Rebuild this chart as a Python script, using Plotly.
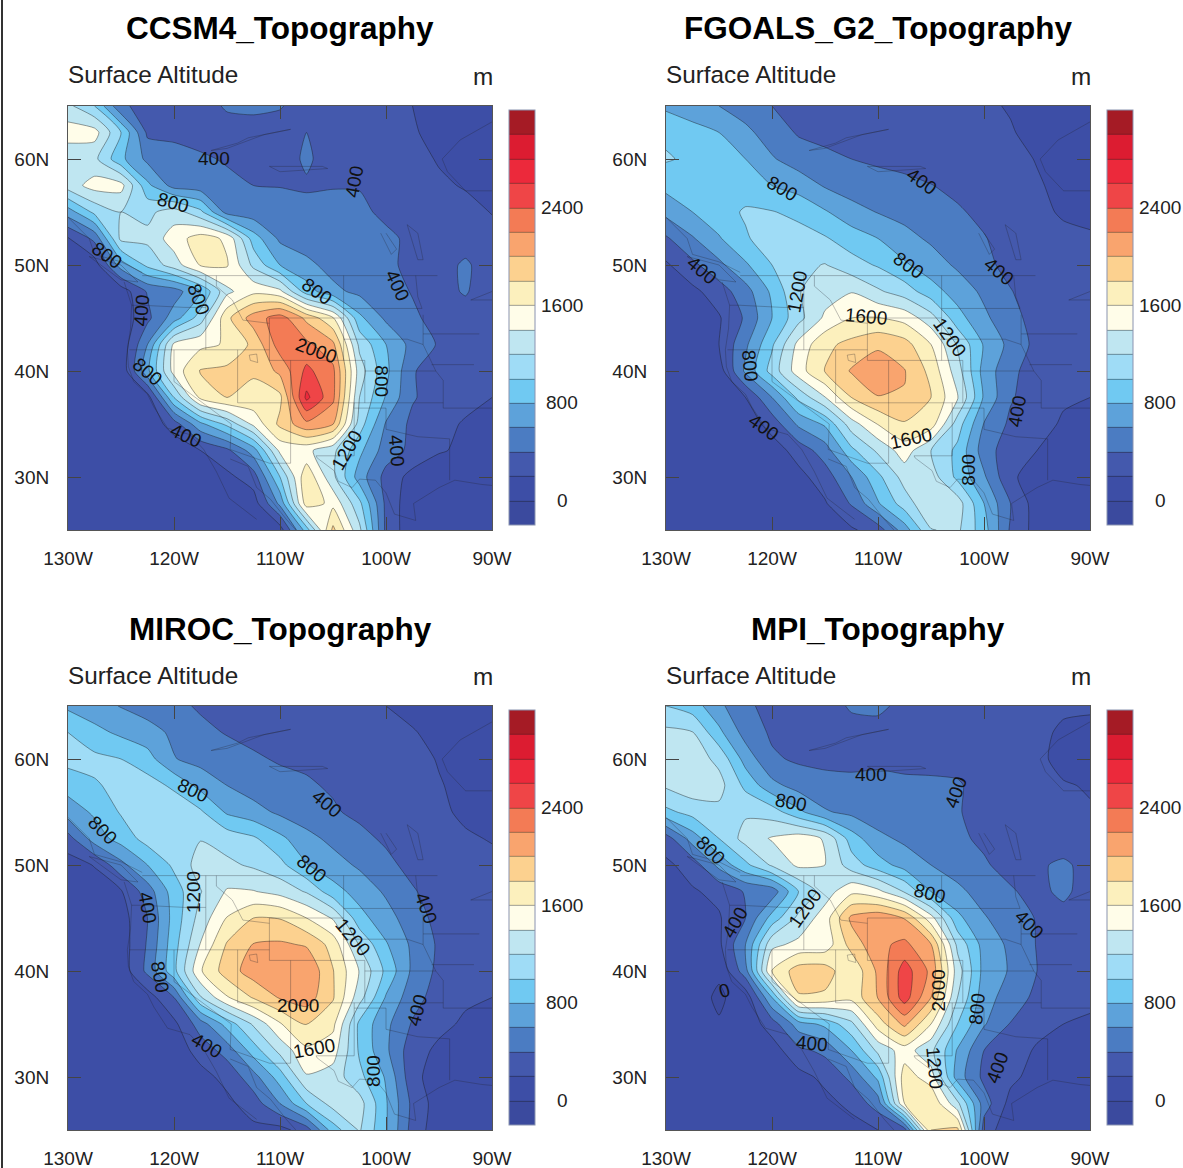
import plotly.graph_objects as go

W, H = 1183, 1168
lons = [-130 + 2.5 * i for i in range(17)]
lats = [65 - 2.5 * i for i in range(17)]

ccsm4 = [
 [1250,1000,430,340,320,330,420,430,410,340,320,280,250,200,170,150,140],
 [1500,1480,1000,360,340,320,330,340,340,400,340,300,260,210,170,150,140],
 [1250,1250,850,550,500,430,380,350,340,420,340,320,290,240,190,170,160],
 [1300,1480,1470,850,520,480,450,400,395,385,395,395,320,270,220,190,180],
 [700,1050,1200,1150,1300,1050,520,480,460,440,430,420,380,340,280,240,195],
 [180,450,1250,1250,1500,1700,1560,900,560,500,470,440,420,380,330,280,240],
 [60,100,700,1050,1300,1620,1620,1150,800,650,530,470,450,340,300,440,260],
 [50,60,80,420,500,800,1350,1550,1450,900,650,550,470,390,330,420,260],
 [40,50,60,350,700,1100,1750,2100,2300,1950,1620,850,560,430,340,300,270],
 [30,40,50,600,1450,1550,1620,1850,2300,2250,2050,1150,800,530,380,300,270],
 [20,30,40,750,1480,1820,1850,1820,2050,2450,2250,1300,850,420,280,240,220],
 [20,30,40,100,1000,1650,1800,1750,1750,2650,2250,1200,780,420,300,230,200],
 [15,20,30,50,300,750,1050,1450,1850,2150,2010,1100,580,350,230,190,170],
 [10,15,20,30,60,200,350,700,1450,1450,1250,850,500,350,220,160,120],
 [10,10,15,20,30,60,150,300,1000,1750,1250,700,330,130,50,30,20],
 [10,10,10,15,20,30,50,100,650,1700,1550,1050,350,60,20,10,10],
 [10,10,10,10,10,10,20,40,100,900,1850,1250,350,60,10,10,10],
]
fgoals = [
 [760,680,600,500,400,350,320,300,280,260,240,220,210,195,170,150,140],
 [960,880,800,650,500,380,350,330,310,290,270,250,230,205,180,160,150],
 [1020,960,900,800,620,500,440,400,370,350,320,290,260,230,195,170,160],
 [860,930,980,920,800,720,580,500,470,440,405,360,310,250,210,175,170],
 [660,800,930,1020,1010,950,820,680,590,540,480,420,360,290,220,190,190],
 [370,580,780,980,1090,1080,1020,900,800,660,570,490,410,330,250,220,205],
 [170,350,550,770,1000,1150,1210,1080,980,830,690,570,450,340,260,230,215],
 [80,150,300,520,840,1190,1300,1390,1230,1100,890,710,560,410,300,250,230],
 [50,80,180,430,800,1130,1440,1600,1610,1530,1280,880,640,470,320,260,240],
 [40,60,200,560,970,1460,1750,1860,1960,1880,1600,1180,780,540,340,270,250],
 [30,50,100,640,1080,1510,1810,2020,2140,2010,1740,1290,720,450,300,240,220],
 [25,35,70,200,600,1050,1390,1800,1990,1990,1800,1420,770,420,300,220,200],
 [20,25,40,80,280,640,830,1310,1610,1780,1700,1100,590,360,260,180,150],
 [15,20,25,40,100,280,500,950,1240,1500,1200,950,500,280,200,130,100],
 [15,15,20,30,60,140,300,600,950,1280,1300,950,630,230,120,60,40],
 [15,15,15,20,40,80,180,420,780,1100,1370,1300,800,400,100,40,30],
 [15,15,15,15,20,50,100,170,300,700,1190,1240,880,370,120,40,30],
]
miroc = [
 [760,680,590,510,440,380,350,330,310,290,270,230,200,180,165,150,140],
 [1000,860,760,680,560,440,390,360,340,320,290,260,230,205,180,160,150],
 [1070,1050,1000,880,610,530,470,420,385,370,330,300,260,225,195,170,160],
 [870,980,1050,1090,960,740,600,500,450,420,380,340,290,240,205,180,170],
 [700,830,1020,1140,1150,1030,770,680,560,490,420,360,310,250,215,185,175],
 [320,700,880,1080,1170,1190,1120,1030,850,660,550,450,370,290,240,210,195],
 [110,210,540,800,1040,1290,1240,1170,1060,810,680,570,450,340,270,240,220],
 [70,100,180,500,900,1190,1420,1410,1330,1180,880,720,570,420,310,270,240],
 [50,70,110,400,880,1280,1610,1800,1790,1600,1380,870,680,490,340,280,250],
 [40,60,90,420,920,1410,1820,2010,2030,1980,1720,1180,820,560,370,290,260],
 [30,45,70,450,940,1580,1900,2100,2195,2180,1810,1390,950,560,350,260,230],
 [25,35,50,100,400,1180,1580,1820,2020,2100,1820,1280,780,480,310,230,200],
 [20,25,35,60,150,500,880,1230,1580,1810,1650,950,650,380,250,170,140],
 [15,20,25,40,80,280,480,900,1260,1560,1490,970,640,280,160,110,90],
 [15,15,20,30,55,130,260,520,900,1380,1310,1050,780,260,100,60,40],
 [10,15,15,20,35,70,150,300,600,1000,1280,1280,820,350,100,50,30],
 [10,10,10,15,20,40,80,150,130,300,900,1220,820,320,80,30,25],
]
mpi = [
 [1000,900,650,430,350,320,330,420,440,350,300,280,230,240,220,210,205],
 [1250,1210,850,520,370,330,320,340,330,300,290,280,240,240,215,190,190],
 [1290,1300,1150,720,430,370,350,360,380,360,350,340,290,250,215,180,180],
 [1230,1330,1270,950,660,520,470,440,430,430,430,420,330,270,225,205,195],
 [950,1070,1150,1170,1100,850,620,550,490,470,450,410,350,300,240,215,205],
 [300,700,1000,1280,1420,1510,1380,900,650,560,510,430,370,320,260,240,230],
 [160,280,660,950,1230,1440,1400,1100,890,720,600,500,420,340,360,450,300],
 [120,180,250,420,480,1000,1300,1550,1450,1180,800,650,510,420,340,450,290],
 [100,130,180,400,880,1250,1500,2050,2150,1990,1480,850,620,480,390,320,270],
 [80,100,160,600,1350,1450,1480,1880,2150,2250,2010,1150,720,560,390,310,270],
 [60,60,20,520,1620,1900,1900,1630,2040,2500,2150,1300,730,580,400,300,260],
 [40,50,-20,60,800,1780,1760,1660,2010,2500,2000,1200,680,510,350,260,230],
 [60,50,10,60,300,700,850,1150,1700,2050,1600,1000,620,390,280,200,180],
 [60,60,50,60,100,350,450,800,1250,1500,1250,780,400,320,170,130,110],
 [60,60,60,80,70,130,250,450,850,1700,1500,700,350,250,120,70,50],
 [50,60,60,60,60,100,140,250,500,1600,1780,1250,500,130,60,40,30],
 [40,50,50,50,50,70,100,120,200,300,1800,1850,300,70,40,30,30],
]

levels_start, levels_end, levels_step = 0, 3000, 200
band_colors = ["#3b4a9e","#3d4ea6","#4459ad","#4b7cc2","#5da2da","#70c9f2","#9fdcf6","#bfe6f1",
               "#fffde9","#fcf0bd","#fcd18f","#f9a46e","#f37b55","#ef4547","#ec293b","#dc1c31","#a51b25"]
bar_ticks = [0, 800, 1600, 2400]
lon_ticks = [-130, -120, -110, -100, -90]
lat_ticks = [30, 40, 50, 60]
lon_labels = ["130W", "120W", "110W", "100W", "90W"]
lat_labels = ["30N", "40N", "50N", "60N"]

titles = ["CCSM4_Topography", "FGOALS_G2_Topography", "MIROC_Topography", "MPI_Topography"]
grids = [ccsm4, fgoals, miroc, mpi]

# contour labels: text, longitude, latitude, rotation
labels_ccsm4 = [("400",-116.2,60,0),("800",-120.1,55.85,15),("400",-103,57.9,-80),("800",-126.3,50.9,35),
  ("800",-106.5,47.5,35),("400",-98.9,48.1,65),("800",-117.7,46.7,70),("400",-123.1,45.75,-85),
  ("2000",-106.6,41.9,20),("800",-122.5,40,40),("800",-100.4,39.05,90),("400",-118.9,33.9,25),
  ("1200",-103.7,32.5,-60),("400",-99,32.5,85)]
labels_fgoals = [("800",-119.06,57.17,30),("400",-105.85,57.9,35),("800",-107.08,50,35),("400",-126.6,49.5,40),
  ("400",-98.6,49.4,40),("1200",-117.6,47.5,-80),("1600",-111.1,45.1,5),("1200",-103.2,43.2,55),
  ("800",-122.1,40.5,85),("400",-120.75,34.7,35),("400",-96.9,36.2,-80),("1600",-106.9,33.6,-12),("800",-101.5,30.7,-90)]
labels_miroc = [("800",-118.2,57,25),("400",-105.6,55.8,40),("800",-126.7,53.3,45),("800",-107,49.7,40),
  ("1200",-118.2,47.45,-90),("400",-122.5,46,80),("400",-96.2,45.9,70),("1200",-103.1,43.2,50),
  ("800",-121.3,39.4,80),("2000",-108.3,36.7,0),("400",-97.1,36.3,-75),("400",-116.9,33,30),
  ("1600",-106.8,32.7,-10),("800",-101.2,30.6,-90)]
labels_mpi = [("400",-110.7,58.5,0),("400",-102.6,56.9,-70),("800",-118.2,55.85,10),("800",-125.75,51.4,45),
  ("800",-105.1,47.35,15),("1200",-116.9,45.9,-55),("400",-123.5,44.6,-60),("400",-95.75,44.35,45),
  ("2000",-104.3,38.2,-90),("800",-100.7,36.4,-85),("0",-124.5,38.2,-15),("400",-116.2,33.2,5),
  ("1200",-104.7,30.85,85),("400",-98.7,30.85,-70)]
contour_labels = [labels_ccsm4, labels_fgoals, labels_miroc, labels_mpi]

map_lines = [
 [(-123,49),(-95.15,49)], [(-124,46.2),(-123,46.2),(-119,46),(-117,46)], [(-117,49),(-117,42)],
 [(-124.2,42),(-111,42)], [(-120,42),(-120,39),(-114.6,35)], [(-114,42),(-114,37)],
 [(-114.6,35),(-114.7,32.6),(-111,31.3),(-109,31.3)], [(-114,37),(-94.6,37)], [(-109,41),(-109,31.3)],
 [(-111,45),(-104,45)], [(-111,45),(-111,41),(-102,41),(-102,37)], [(-104,49),(-104,41)],
 [(-104,43),(-98,43),(-96.5,42.5)], [(-102,40),(-95.3,40)], [(-104,45.9),(-96.6,45.9)],
 [(-103,37),(-103,32),(-106.6,32),(-106.5,31.8)],
 [(-103,36.5),(-100,36.5),(-100,34.5),(-97,33.8),(-94,33.6),(-94,29.7)],
 [(-106.5,31.8),(-104.9,30.6),(-104.5,29.6),(-103.2,29),(-102.5,29.8),(-101,29.7),(-100,28.5),(-99.2,26.5),(-97.2,25.9)],
 [(-116,49),(-116,48),(-114.5,46.7),(-114,45.7),(-113.5,44.8),(-111,44.5)],
 [(-96.5,43.5),(-91.2,43.5)], [(-96.6,45.9),(-97,47),(-97.2,49)], [(-95.7,40.6),(-91.7,40.6)],
 [(-94.6,39.1),(-94.6,36.5),(-90,36.5)], [(-96.5,45.3),(-96.5,42.5),(-95.3,40),(-94.6,39.1)],
 [(-124.7,48.4),(-124,46.2),(-124.1,44),(-124.4,42),(-124.3,40.4),(-123.8,39),(-122.5,37.8),(-121.9,36.6),
  (-120.6,34.6),(-118.5,34),(-117.2,32.6),(-116,30.5),(-114.8,28),(-112.2,26)],
 [(-114.7,31.7),(-113,31),(-112.2,29),(-110.9,27.9),(-109.4,26),(-108.5,25)],
 [(-128,50.8),(-125,48.6),(-123.4,48.4),(-125,50),(-128,50.8)], [(-123,49.3),(-125,50.3),(-127.5,51),(-128,52.5),(-130,54.5)],
 [(-97.2,25.9),(-97.4,27.5),(-95,29),(-93.5,29.7),(-91,29.3),(-90,29.2)],
 [(-116.5,60.8),(-114,61.5),(-113,62),(-109,62.8),(-111.5,62.3),(-115,61),(-116.5,60.8)],
 [(-111,59.3),(-106,59.3),(-105.5,59.1),(-110,58.8),(-111,59.3)],
 [(-98,53.8),(-97,50.5),(-96.5,50.5),(-97,53),(-98,53.8)], [(-100.5,53),(-99.5,51),(-99,51.5),(-100,53)],
 [(-92,46.7),(-90,47.5)], [(-92,46.7),(-90,46.7)],
 [(-90,63.5),(-93,61.8),(-94.7,60),(-94.2,58.8),(-92.5,57),(-90,57)],
 [(-112.9,41.5),(-112.2,41.6),(-112.1,40.8),(-112.8,41),(-112.9,41.5)],
]

PANEL_W = 424
PANEL_X = [68, 666]
PANEL_Y = [106, 706]

def xp(px): return px / W
def yp(px): return 1 - px / H

fig = go.Figure()
colorscale = [[k / 16, c] for k, c in enumerate(band_colors)]
annotations = []
for idx, (grid, title) in enumerate(zip(grids, titles)):
    col, row = idx % 2, idx // 2
    x0, y0 = PANEL_X[col], PANEL_Y[row]
    ax = "" if idx == 0 else str(idx + 1)
    bar_top = y0 + 4
    bar_len = 415
    fig.add_trace(go.Contour(
        x=lons, y=lats[::-1], z=grid[::-1], xaxis="x" + ax, yaxis="y" + ax,
        zmin=-200, zmax=3200, autocontour=False,
        contours=dict(start=levels_start, end=levels_end, size=levels_step, coloring="fill", showlines=True),
        line=dict(color="rgba(25,25,25,0.6)", width=0.7, smoothing=0.6),
        colorscale=colorscale,
        colorbar=dict(x=xp(x0 + 441), xanchor="left", y=yp(bar_top), yanchor="top",
                      lenmode="pixels", len=bar_len, thicknessmode="pixels", thickness=26,
                      xpad=0, ypad=0, outlinecolor="#8a93b0", outlinewidth=1, showticklabels=False, ticks=""),
        hoverinfo="skip",
    ))
    for seg in map_lines:
        fig.add_trace(go.Scatter(x=[p[0] for p in seg], y=[p[1] for p in seg], mode="lines",
                                 xaxis="x" + ax, yaxis="y" + ax, showlegend=False, hoverinfo="skip",
                                 line=dict(color="rgba(35,35,45,0.42)", width=0.7)))
    axis = dict(ticks="inside", ticklen=13, tickwidth=1, tickcolor="#444", showgrid=False, zeroline=False,
                showline=True, linecolor="#555", linewidth=1, mirror="allticks",
                tickfont=dict(family="Liberation Sans", size=19, color="#222"))
    fig.update_layout(**{
        "xaxis" + ax: dict(axis, domain=[xp(x0), xp(x0 + PANEL_W)], range=[-130, -90], tickvals=lon_ticks,
                           ticktext=lon_labels, ticklabelstandoff=11, anchor="y" + ax),
        "yaxis" + ax: dict(axis, domain=[yp(y0 + PANEL_W), yp(y0)], range=[25, 65], tickvals=lat_ticks,
                           ticktext=lat_labels, ticklabelstandoff=14, anchor="x" + ax),
    })
    annotations.append(dict(text=title, xref="paper", yref="paper", x=xp(x0 + 212), y=yp(y0 - 77.5), showarrow=False,
                            xanchor="center", yanchor="middle",
                            font=dict(family="Liberation Sans", size=31.5, color="#000", weight="bold")))
    annotations.append(dict(text="Surface Altitude", xref="paper", yref="paper", x=xp(x0 - 2), y=yp(y0 - 31), showarrow=False,
                            xanchor="left", yanchor="middle", font=dict(family="Liberation Sans", size=24.3, color="#222")))
    annotations.append(dict(text="m", xref="paper", yref="paper", x=xp(x0 + PANEL_W + 3), y=yp(y0 - 30), showarrow=False,
                            xanchor="right", yanchor="middle", font=dict(family="Liberation Sans", size=24.3, color="#222")))
    for v in bar_ticks:
        ypx = bar_top + bar_len * (3200 - v) / 3400
        annotations.append(dict(text=str(v), xref="paper", yref="paper", x=xp(x0 + 494), y=yp(ypx), showarrow=False,
                                xanchor="center", yanchor="middle", font=dict(family="Liberation Sans", size=19, color="#222")))
    for text, lon, lat, angle in contour_labels[idx]:
        annotations.append(dict(text=text, xref="x" + ax, yref="y" + ax, x=lon, y=lat, textangle=angle, showarrow=False,
                                font=dict(family="Liberation Sans", size=19, color="#111")))

fig.update_layout(width=W, height=H, margin=dict(l=0, r=0, t=0, b=0, autoexpand=False), autosize=False,
                  paper_bgcolor="white", plot_bgcolor="white", showlegend=False, annotations=annotations,
                  shapes=[dict(type="rect", xref="paper", yref="paper", x0=xp(1), x1=xp(3), y0=0, y1=1,
                               fillcolor="#333", line_width=0)])
fig.write_html("out.html", config={"displayModeBar": False},
               post_script="document.body.style.margin='0';document.body.style.overflow='hidden';")
